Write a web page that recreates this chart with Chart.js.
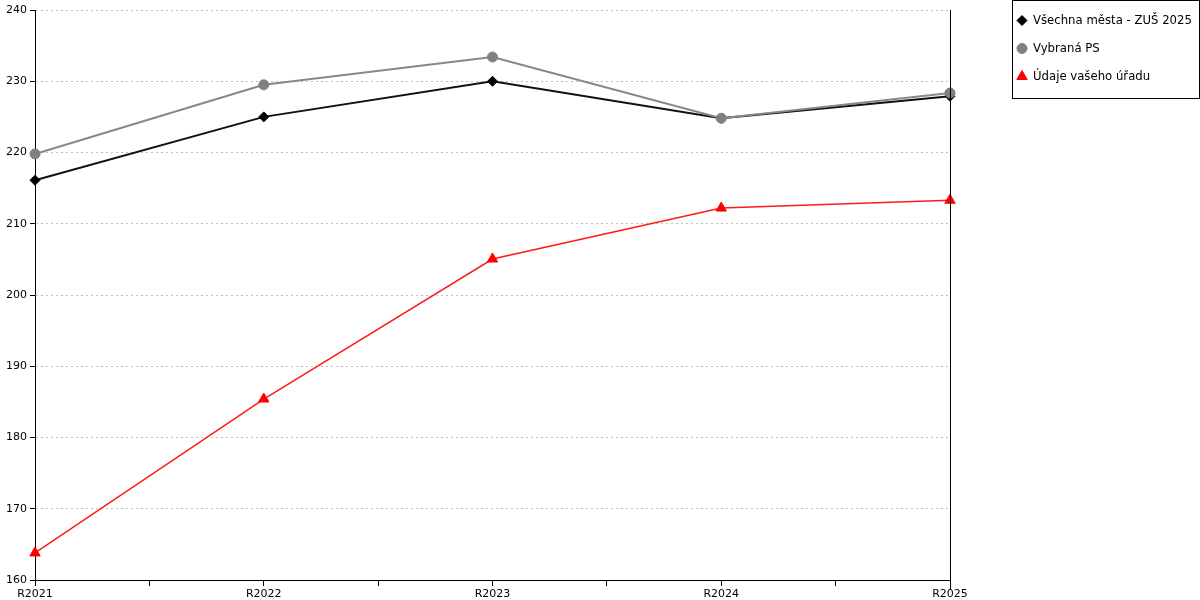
<!DOCTYPE html>
<html><head><meta charset="utf-8">
<script src="https://cdn.jsdelivr.net/npm/chart.js@4/dist/chart.umd.min.js"></script>
<style>html,body{margin:0;padding:0;background:#fff}#w{width:1200px;height:600px;position:relative}</style>
</head><body><div id="w"><canvas id="c" width="1200" height="600"></canvas></div>
<script>
const categories = ['R2021', 'R2022', 'R2023', 'R2024', 'R2025'];
const allCities = [216.1, 225.0, 230.0, 224.8, 227.9];
const selectedPS = [219.8, 229.5, 233.4, 224.8, 228.35];
const yourOffice = [163.8, 185.4, 205.05, 212.2, 213.3];
const seriesNames = ['Všechna města - ZUŠ 2025', 'Vybraná PS', 'Údaje vašeho úřadu'];
const yMin = 160, yMax = 240, yStep = 10;

const toPts = arr => arr.map((v, i) => ({x: i, y: v}));
const FONT = 'DejaVu Sans';

const legendPlugin = {
  id: 'boxLegend',
  afterDraw(chart) {
    const ctx = chart.ctx;
    const ca = chart.chartArea;
    ctx.save();
    ctx.strokeStyle = '#000'; ctx.lineWidth = 1;
    ctx.beginPath(); ctx.moveTo(Math.round(ca.right) + 0.5, ca.top); ctx.lineTo(Math.round(ca.right) + 0.5, ca.bottom + 10); ctx.stroke();
    const bx = 1012.5, by = 0.5, bw = 187, bh = 98;
    ctx.fillStyle = '#fff'; ctx.fillRect(bx, by, bw, bh);
    ctx.strokeStyle = '#000'; ctx.lineWidth = 1; ctx.strokeRect(bx, by, bw, bh);
    ctx.font = '11.7px "' + FONT + '"';
    ctx.textBaseline = 'middle'; ctx.textAlign = 'left';
    chart.data.datasets.forEach((ds, i) => {
      const y = 20.5 + i * 28;
      ctx.fillStyle = ds.pointBackgroundColor; ctx.strokeStyle = ds.pointBorderColor;
      ctx.lineWidth = 1;
      Chart.helpers.drawPoint(ctx, {pointStyle: ds.pointStyle, radius: ds.pointRadius, rotation: 0, borderWidth: 1}, 1022, y);
      ctx.fillStyle = '#000';
      ctx.fillText(ds.label, 1033, y + 0.5);
    });
    ctx.restore();
  }
};

new Chart(document.getElementById('c'), {
  type: 'line',
  data: {
    datasets: [
      {label: seriesNames[0], data: toPts(allCities), borderColor: '#111', borderWidth: 2, clip: false,
       pointStyle: 'rectRot', pointRadius: 5, pointBackgroundColor: '#000', pointBorderColor: '#000', pointBorderWidth: 1, order: 2},
      {label: seriesNames[1], data: toPts(selectedPS), borderColor: '#888', borderWidth: 2, clip: false,
       pointStyle: 'circle', pointRadius: 5, pointBackgroundColor: '#808080', pointBorderColor: '#808080', pointBorderWidth: 1, order: 1},
      {label: seriesNames[2], data: toPts(yourOffice), borderColor: '#ff1a1a', borderWidth: 1.5, clip: false,
       pointStyle: 'triangle', pointRadius: 6, pointBackgroundColor: '#ff0000', pointBorderColor: '#ff0000', pointBorderWidth: 1, order: 0}
    ]
  },
  options: {
    responsive: false,
    animation: false,
    devicePixelRatio: 1,
    layout: {padding: {top: 10, right: 250, left: 0, bottom: 0}},
    plugins: {legend: {display: false}, tooltip: {enabled: false}},
    elements: {line: {tension: 0}},
    scales: {
      x: {
        type: 'linear', min: 0, max: categories.length - 1,
        afterBuildTicks(scale) {
          const t = [];
          for (let v = 0; v <= categories.length - 1; v += 0.5) t.push({value: v});
          scale.ticks = t;
        },
        afterFit(scale) { scale.height = 20; },
        grid: {drawOnChartArea: false, color: '#000', tickLength: 6},
        border: {color: '#000', width: 1},
        ticks: {
          autoSkip: false, maxRotation: 0, padding: 2, color: '#000',
          font: {family: FONT, size: 11},
          callback: v => Number.isInteger(v) ? categories[v] : ''
        }
      },
      y: {
        min: yMin, max: yMax,
        afterFit(scale) { scale.width = 35; },
        grid: {color: '#bdbdbd', tickColor: '#000', tickLength: 5, tickBorderDash: []},
        border: {color: '#000', width: 1, dash: [2, 3]},
        ticks: {stepSize: yStep, padding: 3, color: '#000', font: {family: FONT, size: 11}}
      }
    }
  },
  plugins: [legendPlugin]
});
</script>
</body></html>
